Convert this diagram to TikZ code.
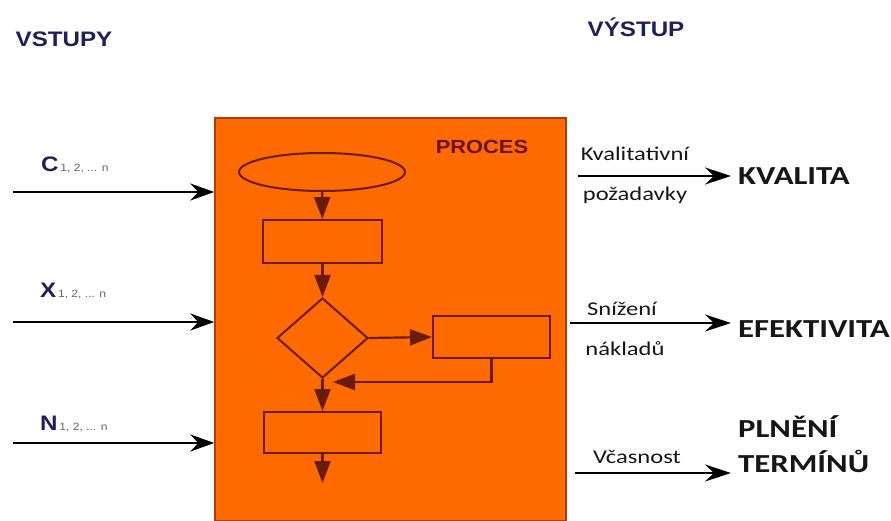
\documentclass[tikz,border=0pt]{standalone}
\usepackage{fontspec}
\usepackage{tikz}
\usetikzlibrary{shapes.geometric, arrows.meta, positioning}

\newfontfamily\arialfont[FakeStretch=1.15]{Liberation Sans}
\newfontfamily\calibfont[FakeStretch=1.26]{Carlito}

\definecolor{procorange}{RGB}{255,106,0}
\definecolor{procline}{RGB}{105,28,10}
\definecolor{procred}{RGB}{105,18,18}
\definecolor{inblue}{RGB}{32,30,92}
\definecolor{outblack}{RGB}{22,22,22}

\newcommand{\idx}[1]{{\mdseries\color{black!60}\fontsize{10.5}{12}\selectfont\,#1}}

\begin{document}
\begin{tikzpicture}[x=1pt, y=-1pt,
    procbox/.style={draw=procline!55!procorange, line width=1.4pt, fill=procorange,
        minimum width=351pt, minimum height=403pt, inner sep=0pt},
    flow/.style={draw=procline, line width=2pt, inner sep=0pt},
    flowarr/.style={draw=procline, line width=2.2pt, -{Triangle[length=22pt, width=16pt]}},
    inarr/.style={line width=2.3pt, -{Stealth[length=24pt, width=17pt, inset=8pt]}},
    outarr/.style={line width=2.4pt, -{Stealth[length=26pt, width=17pt, inset=9pt]}},
    head/.style={text=inblue, font=\arialfont\bfseries\fontsize{21}{24}\selectfont},
    inlbl/.style={anchor=base west, inner sep=0pt, text=inblue,
        font=\arialfont\bfseries\fontsize{21}{24}\selectfont},
    outlbl/.style={anchor=west, inner xsep=7pt, text=outblack, align=left,
        font=\calibfont\bfseries\fontsize{26}{35}\selectfont},
    arrlbl/.style={anchor=base, inner sep=0pt, text=outblack,
        font=\calibfont\fontsize{19.5}{22}\selectfont}]

    \useasboundingbox (0,0) rectangle (891,521);

    % headings
    \node[head] (vstupy) at (64,39) {VSTUPY};
    \node[head] (vystup) at (636,27) {VÝSTUP};

    % process block
    \node[procbox] (proc) at (390.5,319.5) {};
    \node[text=procred, font=\arialfont\bfseries\fontsize{19}{22}\selectfont] (proces) at (482,147) {PROCES};

    \node[flow, ellipse, minimum width=166pt, minimum height=38pt] (start) at (322,172) {};
    \node[flow, rectangle, minimum width=119pt, minimum height=43pt] (krok1) at (322.5,241.5) {};
    \node[flow, diamond, minimum width=91pt, minimum height=80pt] (rozhod) at (322.5,338) {};
    \node[flow, rectangle, minimum width=117pt, minimum height=42pt] (krok2) at (491.5,337) {};
    \node[flow, rectangle, minimum width=117pt, minimum height=41pt] (krok3) at (322.5,432.5) {};
    \coordinate (zpet) at (333,382);
    \coordinate (konec) at (322.5,483);

    \draw[flowarr] (start) -- (krok1);
    \draw[flowarr] (krok1) -- (rozhod);
    \draw[flowarr] (rozhod.east) -- (krok2.west);
    \draw[flowarr] (rozhod.south) -- (krok3.north);
    \draw[flowarr] (krok2.south) |- (zpet);
    \draw[flowarr] (krok3.south) -- (konec);

    % inputs
    \coordinate (inC) at (13,192);
    \coordinate (inX) at (13,322);
    \coordinate (inN) at (13,443);
    \node[inlbl] (lblC) at (41,172) {C\idx{1, 2, ... n}};
    \node[inlbl] (lblX) at (40,298) {X\idx{1, 2, ... n}};
    \node[inlbl] (lblN) at (40,430) {N\idx{1, 2, ... n}};

    \draw[inarr] (inC) -- (inC -| proc.west);
    \draw[inarr] (inX) -- (inX -| proc.west);
    \draw[inarr] (inN) -- (inN -| proc.west);

    % outputs
    \node[outlbl] (kvalita) at (731,176) {KVALITA};
    \node[outlbl] (efekt) at (731,329) {EFEKTIVITA};
    \node[outlbl, anchor=base west] (plneni) at (731,472) {PLNĚNÍ\\TERMÍNŮ};
    \coordinate (out1) at (578,176);
    \coordinate (out2) at (570,323);
    \coordinate (out3) at (575,473);

    \draw[outarr] (out1) -- (out1 -| kvalita.west);
    \draw[outarr] (out2) -- (out2 -| efekt.west);
    \draw[outarr] (out3) -- (out3 -| plneni.west);

    \node[arrlbl] (kval1) at (635,161) {Kvalitativní};
    \node[arrlbl] (kval2) at (635,201) {požadavky};
    \node[arrlbl] (nakl1) at (622,315) {Snížení};
    \node[arrlbl] (nakl2) at (625,355) {nákladů};
    \node[arrlbl] (cas) at (637,463) {Včasnost};
\end{tikzpicture}
\end{document}
